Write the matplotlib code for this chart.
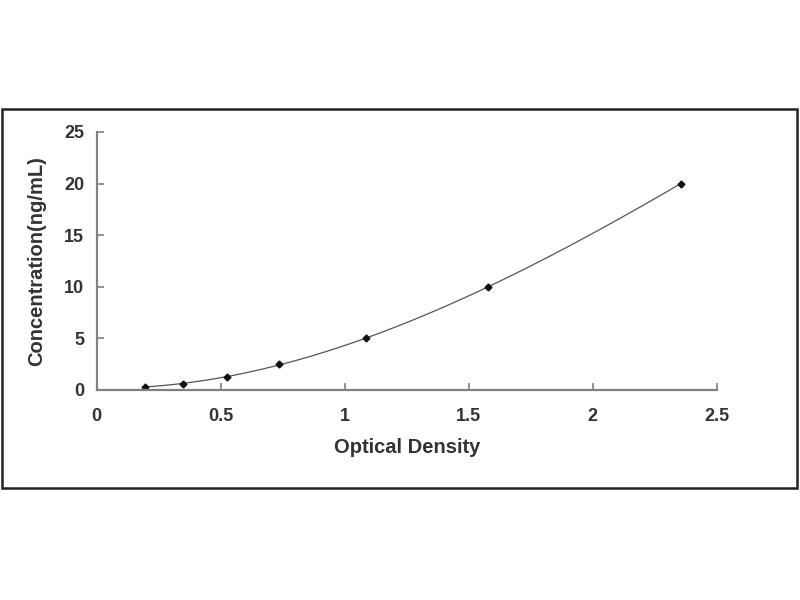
import numpy as np
import matplotlib
matplotlib.use("Agg")
import matplotlib.pyplot as plt
from matplotlib.patches import Rectangle

od = [0.194, 0.346, 0.523, 0.735, 1.087, 1.577, 2.355]
conc = [0.312, 0.625, 1.25, 2.5, 5, 10, 20]

x_ticks = [0, 0.5, 1, 1.5, 2, 2.5]
x_labels = ["0", "0.5", "1", "1.5", "2", "2.5"]
y_ticks = [0, 5, 10, 15, 20, 25]

plt.rcParams['font.family'] = ['Liberation Sans', 'DejaVu Sans']

fig = plt.figure(figsize=(8, 6), dpi=100)
ax = fig.add_axes([0.121, 0.35, 0.775, 0.43])

# standard curve fit (polynomial through the points)
coef = np.polyfit(od, conc, 3)
xs = np.linspace(min(od), max(od), 200)
ax.plot(xs, np.polyval(coef, xs), color="#555555", lw=0.9)
ax.plot(od, conc, "D", color="#111111", markersize=3.5, ls="none")

ax.set_xlim(0, 2.5)
ax.set_ylim(0, 25)
ax.set_xticks(x_ticks)
ax.set_xticklabels(x_labels)
ax.set_yticks(y_ticks)

for s in ["top", "right"]:
    ax.spines[s].set_visible(False)
for s in ["left", "bottom"]:
    ax.spines[s].set_color("#808080")
    ax.spines[s].set_linewidth(1.6)

ax.tick_params(direction="in", length=5, width=1.2, color="#808080",
               labelsize=13, labelcolor="#333333")
ax.tick_params(axis="x", pad=13)
ax.tick_params(axis="y", pad=9)
for lab in ax.get_xticklabels() + ax.get_yticklabels():
    lab.set_fontweight("bold")

ax.set_xlabel("Optical Density", fontsize=14.5, fontweight="bold",
              color="#333333", labelpad=9)
ax.set_ylabel("Concentration(ng/mL)", fontsize=14.5, fontweight="bold",
              color="#333333", labelpad=13)

# outer frame around the chart
fig.patches.append(Rectangle((2 / 800, 1 - 488 / 600), 795 / 800, 379 / 600,
                             transform=fig.transFigure, fill=False,
                             edgecolor="#222222", lw=1.8))

fig.savefig("out.png", dpi=100)
